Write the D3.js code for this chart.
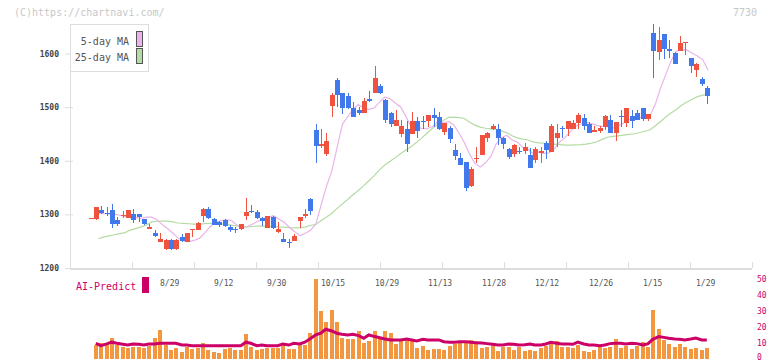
<!DOCTYPE html>
<html><head><meta charset="utf-8">
<script src="https://cdn.jsdelivr.net/npm/d3@7"></script>
<style>body{margin:0;background:#fff}svg{display:block}text{font-family:"DejaVu Sans Mono","Liberation Mono",monospace}</style>
</head><body><svg id="c" width="772" height="361"></svg>
<script>
const openP=[1293,1291,1308,1302,1308,1289,1298,1294,1301,1301,1291,1273,1266,1249,1235,1253,1235,1258,1249,1270,1271,1297,1311,1291,1285,1289,1276,1273,1272,1297,1306,1304,1294,1275,1296,1268,1254,1248,1251,1288,1297,1329,1457,1428,1412,1502,1550,1527,1521,1499,1494,1489,1515,1527,1540,1513,1489,1465,1450,1459,1450,1474,1474,1474,1485,1481,1454,1462,1420,1406,1398,1353,1403,1411,1442,1459,1460,1442,1422,1412,1419,1418,1411,1401,1414,1434,1416,1443,1462,1460,1460,1471,1480,1468,1454,1456,1463,1476,1451,1484,1471,1483,1490,1499,1478,1639,1603,1636,1608,1601,1604,1621,1591,1569,1552,1535];
const highP=[1293,1314,1316,1314,1319,1296,1306,1308,1311,1301,1292,1283,1271,1266,1255,1254,1254,1263,1266,1272,1285,1312,1313,1293,1288,1291,1280,1276,1283,1331,1317,1308,1296,1297,1297,1285,1266,1255,1263,1296,1310,1331,1468,1460,1451,1527,1555,1527,1527,1510,1501,1517,1530,1577,1543,1516,1491,1494,1476,1474,1491,1482,1484,1485,1498,1491,1471,1465,1432,1415,1398,1389,1426,1448,1454,1468,1468,1445,1424,1431,1426,1434,1423,1426,1426,1437,1468,1468,1465,1474,1476,1489,1487,1473,1465,1465,1485,1485,1473,1494,1499,1494,1494,1499,1488,1655,1650,1636,1625,1603,1632,1622,1591,1582,1557,1539];
const lowP=[1293,1289,1301,1297,1274,1278,1294,1293,1284,1286,1280,1273,1257,1249,1234,1234,1233,1248,1249,1258,1270,1286,1292,1280,1277,1276,1268,1265,1271,1289,1302,1291,1279,1274,1273,1265,1248,1237,1251,1275,1294,1299,1396,1423,1409,1482,1501,1487,1496,1482,1485,1489,1510,1527,1524,1470,1463,1465,1445,1417,1450,1442,1460,1463,1463,1457,1448,1434,1401,1392,1344,1352,1395,1411,1435,1457,1429,1422,1403,1407,1412,1412,1387,1395,1395,1403,1416,1426,1442,1447,1460,1460,1457,1451,1454,1451,1457,1451,1437,1463,1463,1462,1476,1475,1475,1555,1588,1589,1591,1580,1604,1597,1563,1557,1540,1506];
const closeP=[1293,1313,1303,1300,1283,1283,1299,1308,1289,1296,1282,1276,1260,1255,1253,1235,1253,1250,1266,1272,1284,1311,1293,1281,1281,1278,1270,1272,1283,1305,1304,1294,1288,1297,1274,1273,1248,1247,1260,1296,1301,1307,1428,1431,1437,1522,1522,1499,1499,1482,1489,1511,1511,1555,1527,1476,1468,1476,1465,1432,1474,1456,1472,1485,1480,1459,1471,1440,1409,1392,1350,1385,1406,1448,1452,1465,1442,1431,1407,1429,1417,1426,1387,1422,1418,1421,1464,1452,1461,1474,1471,1485,1465,1452,1457,1462,1483,1451,1472,1483,1498,1475,1476,1478,1488,1605,1625,1608,1605,1580,1619,1622,1577,1580,1544,1521];
const volume=[0,8.4,9.5,8.4,12.8,8.4,7.4,6.4,7.4,7.4,6.4,8.0,12.8,17.8,8.4,5.3,6.8,3.8,7.4,6.0,6.8,9.5,5.3,4.2,3.2,6.0,6.8,5.3,5.3,15.3,7.4,5.3,6.0,6.8,6.8,6.8,9.5,6.0,6.0,8.4,8.4,16.1,49.7,29.7,23,30.3,23,13,12.2,12.2,17.2,9.9,10.8,17.2,12.2,17.2,16.1,9.1,10.8,12.2,10.8,6.8,8.0,5.3,6.0,6.0,5.3,8.0,9.1,10.8,10.8,11.5,9.1,6.8,7.4,9.1,4.7,7.4,7.4,5.3,7.4,4.7,5.3,4.7,6.4,8.0,9.5,10.8,7.4,7.4,6.8,8.4,4.7,3.8,5.3,8.0,6.8,7.4,12.2,6.8,8.0,6.0,8.0,10.2,7.4,30.3,18.4,11.5,9.1,7.4,9.1,7.4,6.0,6.8,5.3,6.8];
const aiPredict=[null,9.5,8.0,9.1,10.2,9.5,8.9,8.4,9.1,8.9,8.4,9.1,9.1,9.5,9.5,9.5,9.5,8.4,8.4,8.0,8.0,8.0,8.0,8.0,8.0,8.0,8.0,8.0,8.0,10.2,9.5,8.0,8.4,8.0,8.0,8.0,9.1,8.4,9.5,9.1,10.2,12.2,14.8,15.8,18.3,17.2,15.8,15.2,14.7,15.2,14.3,12.6,14.7,13.7,13.0,12.2,11.6,11.6,11.6,12.2,11.6,11.0,12.0,11.6,11.6,11.6,10.5,10.1,10.1,10.5,10.5,10.1,9.9,9.7,9.3,8.9,8.4,8.4,9.0,8.9,8.4,8.6,9.1,8.4,8.4,9.1,10.2,9.5,9.1,9.1,8.9,10.2,9.1,8.4,8.4,8.0,8.4,9.3,9.5,9.5,9.1,9.5,9.3,8.4,9.1,12.0,13.7,13.2,12.6,12.2,12.0,11.6,12.2,12.8,11.6,11.6];
const ma5Head=[1302,1301.6,1301,1300.6];
const ma25Head=[1254.5,1258,1260,1262,1264,1266,1270.8,1273.4,1276.8,1280,1286,1287.2,1287.6,1287.6,1286,1284,1283.3,1282.6,1282,1281.6,1282.7,1283.3,1283.3,1282.7];
const tickLabels=["8/29","9/12","9/30","10/15","10/29","11/13","11/28","12/12","12/26","1/15","1/29"];
const tickIndex=[13,23,33,43,53,63,73,83,93,103,113];
const priceTicks=[1200,1300,1400,1500,1600];
const volTicks=[0,10,20,30,40,50];

const svg=d3.select("#c");
const n=closeP.length;
const x=d3.scaleLinear().domain([0,n]).range([89,89+5.36*n]);
const left=i=>Math.floor(x(i));
const xm=d3.scaleLinear().domain([0,n-1]).range([98.6,708.1]); // MA lines use their own x placement
const y=d3.scaleLinear().domain([1200,1600]).range([268,53.6]);
const yv=d3.scaleLinear().domain([0,50]).range([358.5,278.5]);
const UP="#ef5340", DN="#4179ec";

// watermark
svg.append("text").attr("x",14).attr("y",16).attr("font-size",10).attr("fill","#c8c8c8").text("(C)https://chartnavi.com/");
svg.append("text").attr("x",757).attr("y",16).attr("text-anchor","end").attr("font-size",10).attr("fill","#c8c8c8").text("7730");

// frame / axes
const g=svg.append("g").attr("shape-rendering","crispEdges");
g.append("line").attr("x1",70.5).attr("x2",70.5).attr("y1",24).attr("y2",268).attr("stroke","#ddd");
g.append("line").attr("x1",70).attr("x2",752).attr("y1",268.5).attr("y2",268.5).attr("stroke","#ddd").attr("stroke-width",2);
d3.range(70,753,62).forEach(v=>{
  g.append("line").attr("x1",v+0.5).attr("x2",v+0.5).attr("y1",262).attr("y2",268).attr("stroke","#ddd");
});
const ya=svg.append("g").attr("transform","translate(73,0)")
  .call(d3.axisLeft(y).tickValues(priceTicks).tickSize(8).tickPadding(6).tickFormat(d3.format("d")));
ya.select(".domain").remove();
ya.selectAll("line").attr("stroke","#ddd");
ya.selectAll("text").attr("font-size",8).attr("font-weight","bold").attr("fill","#444").attr("font-family",'"DejaVu Sans Mono",monospace');

// moving averages
function sma(arr,k,head){return arr.map((v,i)=> i<k-1 ? (head[i]==null?null:head[i]) : d3.mean(arr.slice(i-k+1,i+1)));}
const ma5=sma(closeP,5,ma5Head), ma25=sma(closeP,25,ma25Head);
const line=d3.line().defined(d=>d!=null).x((d,i)=>xm(i)).y(d=>y(d));
svg.append("path").attr("d",line(ma25)).attr("fill","none").attr("stroke","#b5dba4").attr("stroke-width",1.2);
svg.append("path").attr("d",line(ma5)).attr("fill","none").attr("stroke","#e8b4ea").attr("stroke-width",1.2);

// candles
const cg=svg.append("g").attr("shape-rendering","crispEdges");
const idx=d3.range(n);
cg.selectAll(".w").data(idx).join("rect")
  .attr("x",i=>left(i)+2).attr("width",1)
  .attr("y",i=>Math.round(y(highP[i]))).attr("height",i=>Math.max(1,Math.round(y(lowP[i]))-Math.round(y(highP[i]))))
  .attr("fill",i=>closeP[i]>=openP[i]?UP:DN);
cg.selectAll(".b").data(idx).join("rect")
  .attr("x",i=>left(i)).attr("width",5)
  .attr("y",i=>Math.round(y(Math.max(openP[i],closeP[i]))))
  .attr("height",i=>Math.max(1,Math.round(y(Math.min(openP[i],closeP[i])))-Math.round(y(Math.max(openP[i],closeP[i])))))
  .attr("fill",i=>closeP[i]>=openP[i]?UP:DN);

// legend
svg.append("rect").attr("x",70.5).attr("y",24.5).attr("width",78).attr("height",47).attr("fill","#fff").attr("stroke","#ddd").attr("shape-rendering","crispEdges");
svg.append("text").attr("x",129).attr("y",44.5).attr("text-anchor","end").attr("font-size",10).attr("fill","#555").text("5-day MA");
svg.append("text").attr("x",129).attr("y",61).attr("text-anchor","end").attr("font-size",10).attr("fill","#555").text("25-day MA");
svg.append("rect").attr("x",136.5).attr("y",31.5).attr("width",6).attr("height",15).attr("fill","#e8b4ea").attr("stroke","#555").attr("shape-rendering","crispEdges");
svg.append("rect").attr("x",136.5).attr("y",48.5).attr("width",6).attr("height",15).attr("fill","#b5dba4").attr("stroke","#555").attr("shape-rendering","crispEdges");

// date labels
svg.selectAll(".dl").data(tickIndex).join("text")
  .attr("x",i=>left(i)+2).attr("y",285.5).attr("font-size",8).attr("fill","#555")
  .text((d,k)=>tickLabels[k]);

// volume panel
svg.append("g").attr("shape-rendering","crispEdges").selectAll("rect").data(idx.filter(i=>volume[i]>0)).join("rect")
  .attr("x",i=>left(i)).attr("width",3.6)
  .attr("y",i=>yv(volume[i])).attr("height",i=>yv(0)-yv(volume[i]))
  .attr("fill","#f2963f");
const aline=d3.line().defined(d=>d!=null).x((d,i)=>left(i)+1.8).y(d=>yv(d));
svg.append("path").attr("d",aline(aiPredict)).attr("fill","none").attr("stroke","#cc0066").attr("stroke-width",3);
svg.selectAll(".vt").data(volTicks).join("text")
  .attr("x",757).attr("y",d=>Math.min(yv(d)+3,360)).attr("font-size",8).attr("fill","#cc0066").text(d=>d);
svg.append("text").attr("x",76).attr("y",289.5).attr("font-size",10).attr("fill","#cc0066").text("AI-Predict");
svg.append("rect").attr("x",142).attr("y",277).attr("width",7).attr("height",16).attr("fill","#cc0066");
</script></body></html>
